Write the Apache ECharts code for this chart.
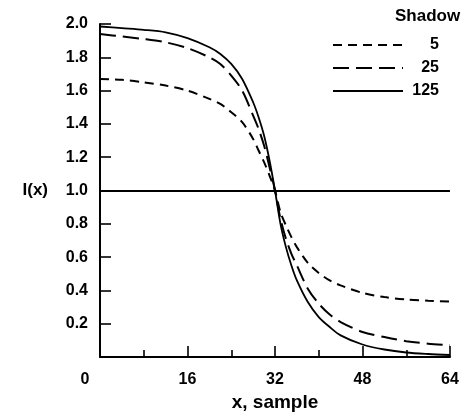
<!DOCTYPE html>
<html>
<head>
<meta charset="utf-8">
<script src="https://cdn.jsdelivr.net/npm/echarts@6/dist/echarts.min.js"></script>
<style>
html,body{margin:0;padding:0;background:#fff;}
#chart{width:468px;height:417px;}
</style>
</head>
<body>
<div id="chart"></div>
<script>
// sample positions
var xs = [0, 4, 8, 12, 16, 20, 22, 24, 26, 28, 29, 30, 31, 32, 33, 34, 35, 36, 38, 40, 42, 44, 48, 52, 56, 60, 64];
// Shadow = 5
var shadow5 = [1.67, 1.665, 1.65, 1.63, 1.60, 1.55, 1.52, 1.47, 1.41, 1.31, 1.24, 1.17, 1.09, 1.00, 0.87, 0.79, 0.72, 0.66, 0.565, 0.505, 0.46, 0.43, 0.385, 0.36, 0.345, 0.338, 0.333];
// Shadow = 25
var shadow25 = [1.94, 1.925, 1.91, 1.89, 1.855, 1.80, 1.76, 1.69, 1.60, 1.45, 1.37, 1.27, 1.14, 1.00, 0.83, 0.71, 0.62, 0.55, 0.41, 0.32, 0.255, 0.21, 0.15, 0.12, 0.095, 0.08, 0.07];
// Shadow = 125
var shadow125 = [1.985, 1.975, 1.965, 1.95, 1.915, 1.86, 1.82, 1.76, 1.67, 1.53, 1.44, 1.33, 1.18, 1.00, 0.80, 0.66, 0.55, 0.46, 0.33, 0.24, 0.18, 0.13, 0.075, 0.045, 0.027, 0.018, 0.012];
var seriesNames = ['5', '25', '125'];
var xTicks = [0, 16, 32, 48, 64];
var yTicks = [0.2, 0.4, 0.6, 0.8, 1.0, 1.2, 1.4, 1.6, 1.8, 2.0];
var refLevel = 1.0;

function pairs(ys) { return xs.map(function (x, i) { return [x, ys[i]]; }); }

var FONT = 'Liberation Sans';
var chart = echarts.init(document.getElementById('chart'), null, {renderer: 'canvas'});
var option = {
  animation: false,
  backgroundColor: '#fff',
  title: {
    text: 'Shadow',
    left: 390, top: 3,
    textStyle: {fontFamily: FONT, fontWeight: 'bold', fontSize: 17, color: '#000'}
  },
  legend: {
    orient: 'vertical',
    left: 327, top: 32,
    itemWidth: 70, itemHeight: 14, itemGap: 7,
    data: seriesNames,
    itemStyle: {color: 'rgba(0,0,0,0)', borderColor: 'rgba(0,0,0,0)', borderWidth: 0},
    formatter: function (n) { return '{a|' + n + '}'; },
    textStyle: {
      fontFamily: FONT, fontWeight: 'bold', fontSize: 16, color: '#000',
      rich: {a: {width: 31, align: 'right', fontFamily: FONT, fontWeight: 'bold', fontSize: 16, color: '#000'}}
    }
  },
  grid: {left: 100, right: 18, top: 24, bottom: 55, containLabel: false},
  xAxis: {
    type: 'value', min: 0, max: 64, interval: 16,
    name: 'x, sample', nameLocation: 'middle', nameGap: 36,
    nameTextStyle: {fontFamily: FONT, fontWeight: 'bold', fontSize: 19, color: '#000'},
    axisLine: {lineStyle: {color: '#000', width: 2}},
    axisTick: {inside: true, length: 11, lineStyle: {color: '#000', width: 1.6}},
    minorTick: {show: true, splitNumber: 2, length: 7, lineStyle: {color: '#000', width: 1.6}},
    splitLine: {show: false},
    axisLabel: {
      margin: 15, color: '#000', fontFamily: FONT, fontWeight: 'bold', fontSize: 16,
      formatter: function (v) { return xTicks.indexOf(v) < 0 ? '' : (v === 0 ? '{z|0}' : String(v)); },
      rich: {z: {padding: [0, 30, 0, 0], fontFamily: FONT, fontWeight: 'bold', fontSize: 16, color: '#000'}}
    }
  },
  yAxis: {
    type: 'value', min: 0, max: 2.0, interval: 0.2,
    name: 'I(x)', nameLocation: 'middle', nameGap: 52, nameRotate: 0,
    nameTextStyle: {fontFamily: FONT, fontWeight: 'bold', fontSize: 17, color: '#000'},
    axisLine: {show: true, lineStyle: {color: '#000', width: 2}},
    axisTick: {show: true, inside: true, length: 11, lineStyle: {color: '#000', width: 1.6}},
    splitLine: {show: false},
    axisLabel: {
      margin: 12, color: '#000', fontFamily: FONT, fontWeight: 'bold', fontSize: 16,
      formatter: function (v) {
        for (var i = 0; i < yTicks.length; i++) { if (Math.abs(yTicks[i] - v) < 1e-6) return yTicks[i].toFixed(1); }
        return '';
      }
    }
  },
  series: [
    {
      name: seriesNames[0], type: 'line', data: pairs(shadow5), smooth: 0.3, symbol: 'none',
      lineStyle: {color: '#000', width: 2, type: [9, 6]}, itemStyle: {color: '#000'}
    },
    {
      name: seriesNames[1], type: 'line', data: pairs(shadow25), smooth: 0.3, symbol: 'none',
      lineStyle: {color: '#000', width: 2, type: [16, 7]}, itemStyle: {color: '#000'}
    },
    {
      name: seriesNames[2], type: 'line', data: pairs(shadow125), smooth: 0.3, symbol: 'none',
      lineStyle: {color: '#000', width: 1.8, type: 'solid'}, itemStyle: {color: '#000'},
      markLine: {
        silent: true, symbol: 'none', label: {show: false},
        lineStyle: {color: '#000', width: 1.8, type: 'solid'},
        data: [{yAxis: refLevel}]
      }
    }
  ]
};
chart.setOption(option);
</script>
</body>
</html>
